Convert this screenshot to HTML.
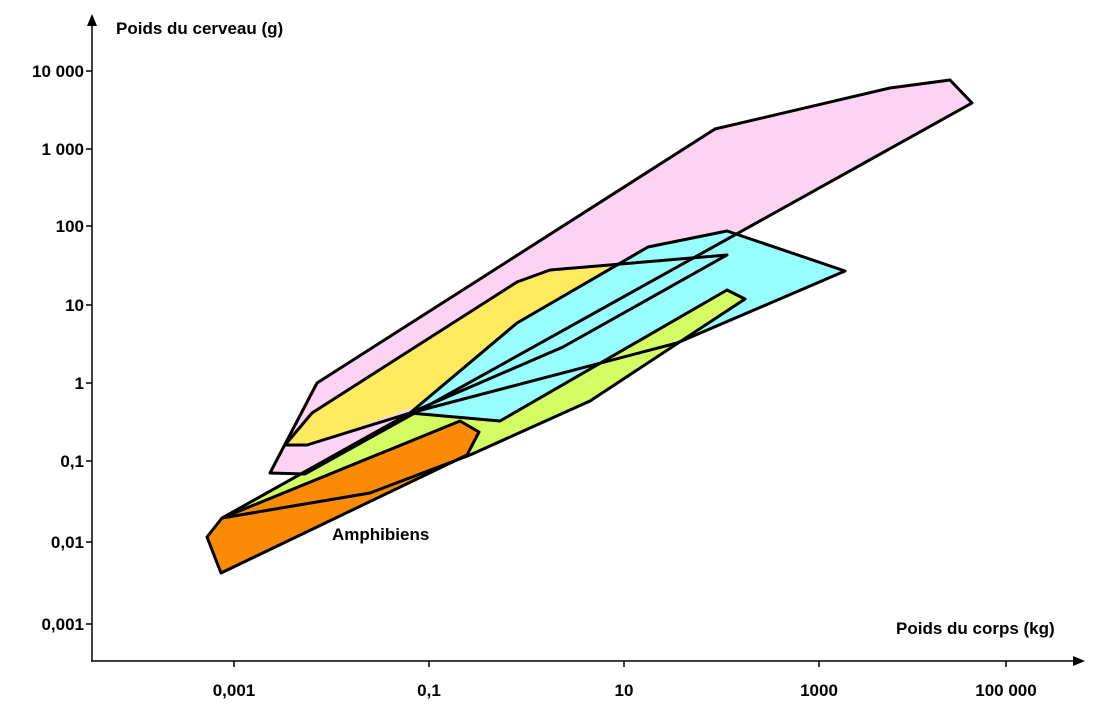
<!DOCTYPE html>
<html><head><meta charset="utf-8"><style>
body{margin:0;background:#fff}
svg text{font-family:"Liberation Sans",Arial,sans-serif;font-weight:bold;font-size:17px}
</style></head><body>
<svg width="1110" height="717" viewBox="0 0 1110 717">
<g stroke="none">
<polygon fill="#fcd3f2" points="317,383 715,129 890,88 950,80 972,103 305,474 270,473"/>
<polygon fill="#ffea60" points="285,445 312,413 517,282 550,270 727,255 563,347 420,405 307,445"/>
<polygon fill="#97fdfd" points="410,413 517,323 648,247 727,231 845,271 677,343 500,421"/>
<polygon fill="#d4fd63" points="222,518 410,413 500,421 727,290 745,299 590,401 470,455 370,493"/>
<polygon fill="#fb8a05" points="222,518 460,421 479,432 467,455 221,573 207,537"/>
</g>
<g fill="none" stroke="#000" stroke-width="3" stroke-linejoin="round">
<polygon points="317,383 715,129 890,88 950,80 972,103 305,474 270,473"/>
<polygon points="285,445 312,413 517,282 550,270 727,255 563,347 410,413 307,445"/>
<polygon points="410,413 517,323 648,247 727,231 845,271 677,343"/>
<polygon points="222,518 410,413 500,421 727,290 745,299 590,401 470,455 370,493"/>
<polygon points="222,518 460,421 479,432 467,455 221,573 207,537"/>
</g>
<g stroke="#000" stroke-width="1.5">
<line x1="92" y1="661" x2="92" y2="24"/>
<line x1="91" y1="661" x2="1076" y2="661"/>
<line x1="86" y1="71" x2="92" y2="71"/><line x1="86" y1="149" x2="92" y2="149"/>
<line x1="86" y1="226" x2="92" y2="226"/><line x1="86" y1="305" x2="92" y2="305"/>
<line x1="86" y1="383" x2="92" y2="383"/><line x1="86" y1="461" x2="92" y2="461"/>
<line x1="86" y1="542" x2="92" y2="542"/><line x1="86" y1="624" x2="92" y2="624"/>
<line x1="234" y1="661" x2="234" y2="667"/><line x1="429" y1="661" x2="429" y2="667"/>
<line x1="624" y1="661" x2="624" y2="667"/><line x1="819" y1="661" x2="819" y2="667"/>
<line x1="1006" y1="661" x2="1006" y2="667"/>
</g>
<polygon points="92,14 87,26 97,26" fill="#000"/>
<polygon points="1085,661 1073,656 1073,666" fill="#000"/>
<g text-anchor="end">
<text x="84" y="77">10 000</text><text x="84" y="155">1 000</text>
<text x="84" y="232">100</text><text x="84" y="311">10</text>
<text x="84" y="389">1</text><text x="84" y="467">0,1</text>
<text x="84" y="548">0,01</text><text x="84" y="630">0,001</text>
</g>
<g text-anchor="middle">
<text x="234" y="696">0,001</text><text x="429" y="696">0,1</text>
<text x="624" y="696">10</text><text x="819" y="696">1000</text>
<text x="1006" y="696">100 000</text>
</g>
<text x="116" y="34">Poids du cerveau (g)</text>
<text x="896" y="634">Poids du corps (kg)</text>
<text x="332" y="540">Amphibiens</text>
</svg>
</body></html>
